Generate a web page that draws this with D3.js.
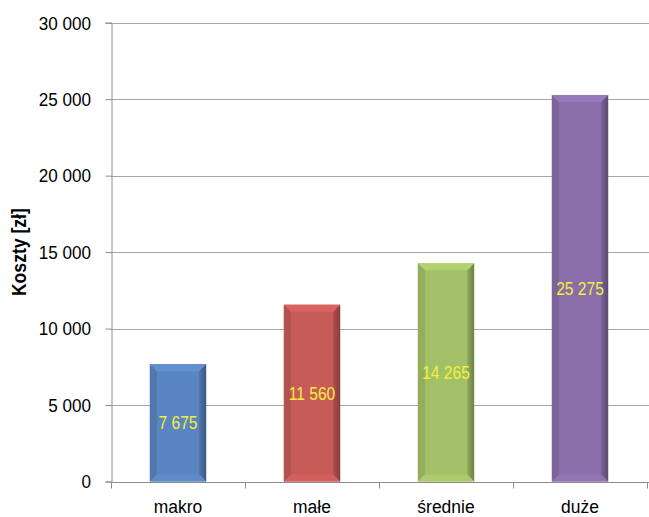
<!DOCTYPE html>
<html>
<head>
<meta charset="utf-8">
<script src="https://cdn.jsdelivr.net/npm/d3@7"></script>
<style>
  html, body { margin: 0; padding: 0; background: #fff; }
  svg { display: block; }
  text { font-family: "Liberation Sans", Arial, sans-serif; }
</style>
</head>
<body>
<svg id="chart" width="649" height="517"></svg>
<script>
// Cost per category
const categories = ["makro", "małe", "średnie", "duże"];
const costs = [7675, 11560, 14265, 25275];
const yTicks = [0, 5000, 10000, 15000, 20000, 25000, 30000];
const barColors = ["#5985c0", "#c65b58", "#a2c067", "#8a6eaa"];
const axisTitle = "Koszty [zł]";

const W = 649, H = 517;
const margin = { left: 111, right: 2, top: 23, bottom: 36 };

const svg = d3.select("#chart");

const x = d3.scaleBand()
  .domain(categories)
  .range([margin.left, W - margin.right])
  .paddingInner(0.58)
  .paddingOuter(0.29);

const y = d3.scaleLinear()
  .domain([0, 30000])
  .range([H - margin.bottom + 0.5, margin.top - 0.3]);

const fmt = v => d3.format(",")(v).replace(/,/g, " ");

// text with a slight horizontal condensing
function label(parent, px, py, str, size, sx, anchor, rot) {
  const t = parent.append("text")
    .attr("transform", `translate(${px},${py})${rot ? ` rotate(${rot})` : ""} scale(${sx},1)`)
    .attr("text-anchor", anchor)
    .style("font-size", size + "px")
    .attr("fill", "#000")
    .text(str);
  return t;
}

// gridlines
svg.append("g")
  .selectAll("line")
  .data(yTicks.filter(t => t > 0))
  .join("line")
  .attr("x1", margin.left)
  .attr("x2", W)
  .attr("y1", d => Math.round(y(d)) + 0.5)
  .attr("y2", d => Math.round(y(d)) + 0.5)
  .attr("stroke", "#a6a6a6")
  .attr("stroke-width", 1);

// y axis line and ticks
const yAxis = d3.axisLeft(y).tickValues(yTicks).tickSize(6).tickFormat("");
const gy = svg.append("g")
  .attr("transform", `translate(${margin.left + 0.5},0)`)
  .call(yAxis);
gy.select(".domain").attr("stroke", "#8c8c8c");
gy.selectAll(".tick line").attr("stroke", "#8c8c8c");
const gyLabels = svg.append("g");
yTicks.forEach(t => label(gyLabels, 91, y(t), fmt(t), 19, 0.9, "end").attr("dy", "0.36em"));

// x axis (ticks at category boundaries)
const y0 = Math.round(y(0)) + 0.5;
const bounds = d3.range(categories.length + 1).map(i => margin.left + i * (W - margin.right - margin.left) / categories.length);
svg.append("line")
  .attr("x1", margin.left).attr("x2", W)
  .attr("y1", y0).attr("y2", y0)
  .attr("stroke", "#8c8c8c");
svg.append("g")
  .selectAll("line")
  .data(bounds)
  .join("line")
  .attr("x1", d => Math.round(d) + 0.5)
  .attr("x2", d => Math.round(d) + 0.5)
  .attr("y1", y0).attr("y2", y0 + 6)
  .attr("stroke", "#8c8c8c");
const gxLabels = svg.append("g");
categories.forEach(c => label(gxLabels, x(c) + x.bandwidth() / 2, y0 + 30, c, 19, 0.92, "middle"));

// axis title
label(svg, 26, (y(0) + y(30000)) / 2, axisTitle, 20, 0.88, "middle", -90)
  .style("font-weight", "bold");

// bevelled bars
const defs = svg.append("defs");
const bev = 7;
const bars = svg.append("g");
categories.forEach((c, i) => {
  const base = d3.color(barColors[i]);
  const x0 = x(c), x1 = x(c) + x.bandwidth();
  const yt = y(costs[i]), yb = y(0);
  const g = bars.append("g");
  const gid = "rg" + i;
  const grad = defs.append("linearGradient").attr("id", gid).attr("x1", 0).attr("x2", 1).attr("y1", 0).attr("y2", 0);
  grad.append("stop").attr("offset", 0).attr("stop-color", base.darker(0.35));
  grad.append("stop").attr("offset", 1).attr("stop-color", base.darker(1.1));

  g.append("rect")
    .attr("x", x0).attr("y", yt)
    .attr("width", x1 - x0).attr("height", yb - yt)
    .attr("fill", base);
  // left facet
  g.append("polygon")
    .attr("points", [[x0, yt], [x0 + bev, yt + bev], [x0 + bev, yb - bev], [x0, yb]].join(" "))
    .attr("fill", base.darker(0.3));
  // right facet
  g.append("polygon")
    .attr("points", [[x1, yt], [x1 - bev, yt + bev], [x1 - bev, yb - bev], [x1, yb]].join(" "))
    .attr("fill", `url(#${gid})`);
  // top facet
  g.append("polygon")
    .attr("points", [[x0, yt], [x1, yt], [x1 - bev, yt + bev], [x0 + bev, yt + bev]].join(" "))
    .attr("fill", base.brighter(0.25));
  // bottom facet
  g.append("polygon")
    .attr("points", [[x0, yb], [x1, yb], [x1 - bev, yb - bev], [x0 + bev, yb - bev]].join(" "))
    .attr("fill", base.brighter(0.15));
  // value label
  label(g, (x0 + x1) / 2, (yt + yb) / 2, fmt(costs[i]), 19, 0.82, "middle")
    .attr("dy", "0.35em")
    .attr("fill", "#f5f03c");
});
</script>
</body>
</html>
